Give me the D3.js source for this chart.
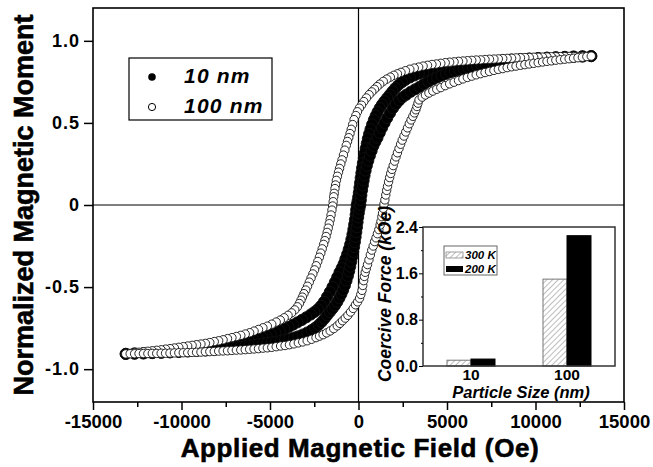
<!DOCTYPE html>
<html>
<head>
<meta charset="utf-8">
<script src="https://d3js.org/d3.v7.min.js"></script>
<style>
  body { margin: 0; background: #fff; }
  text { font-family: "Liberation Sans", Arial, sans-serif; font-weight: bold; }
</style>
</head>
<body>
<svg id="chart" width="653" height="467"></svg>

<script>
// ---- data: [field (Oe), normalized moment] ----
const nm100Down = [[13150,.907],[12900,.906],[12650,.906],[12400,.905],[12150,.905],[11900,.905],[11650,.904],[11400,.904],[11150,.903],[10900,.903],[10650,.902],[10400,.901],[10150,.900],[9900,.900],[9650,.899],[9400,.898],[9150,.897],[8900,.896],[8650,.894],[8400,.893],[8150,.892],[7900,.890],[7650,.889],[7400,.888],[7150,.886],[6900,.884],[6650,.883],[6400,.881],[6150,.879],[5900,.877],[5650,.875],[5400,.872],[5150,.870],[4900,.867],[4650,.863],[4400,.859],[4150,.856],[3900,.851],[3650,.846],[3400,.840],[3150,.834],[2900,.827],[2650,.818],[2400,.808],[2200,.799],[2000,.790],[1800,.779],[1600,.767],[1400,.753],[1200,.736],[1050,.721],[900,.705],[750,.689],[600,.672],[450,.652],[300,.630],[170,.608],[50,.590],[-60,.568],[-150,.545],[-250,.520],[-330,.490],[-410,.461],[-480,.435],[-550,.410],[-620,.387],[-690,.363],[-770,.334],[-850,.304],[-930,.275],[-1000,.250],[-1070,.223],[-1130,.200],[-1190,.175],[-1250,.150],[-1295,.122],[-1330,.100],[-1370,.071],[-1400,.050],[-1430,.020],[-1460,-.006],[-1500,-.031],[-1550,-.061],[-1600,-.089],[-1650,-.114],[-1710,-.141],[-1770,-.167],[-1830,-.192],[-1900,-.217],[-1970,-.240],[-2050,-.267],[-2130,-.293],[-2210,-.318],[-2300,-.344],[-2390,-.370],[-2480,-.395],[-2580,-.420],[-2680,-.445],[-2780,-.470],[-2880,-.495],[-2980,-.518],[-3080,-.540],[-3170,-.561],[-3250,-.580],[-3340,-.600],[-3450,-.620],[-3600,-.639],[-3780,-.657],[-3980,-.672],[-4200,-.687],[-4420,-.701],[-4650,-.713],[-4900,-.726],[-5150,-.738],[-5400,-.748],[-5650,-.758],[-5900,-.768],[-6150,-.778],[-6400,-.786],[-6650,-.794],[-6900,-.801],[-7150,-.808],[-7400,-.814],[-7650,-.821],[-7900,-.827],[-8150,-.832],[-8400,-.838],[-8650,-.843],[-8900,-.847],[-9150,-.851],[-9400,-.855],[-9650,-.859],[-9900,-.863],[-10150,-.867],[-10400,-.871],[-10650,-.875],[-10900,-.878],[-11150,-.882],[-11400,-.885],[-11650,-.888],[-11900,-.891],[-12150,-.894],[-12400,-.897],[-12650,-.900],[-12900,-.904],[-13150,-.907]];

const nm100Up = [[-13150,-.907],[-12900,-.906],[-12650,-.906],[-12400,-.905],[-12150,-.905],[-11900,-.905],[-11650,-.904],[-11400,-.904],[-11150,-.903],[-10900,-.903],[-10650,-.902],[-10400,-.901],[-10150,-.900],[-9900,-.900],[-9650,-.899],[-9400,-.898],[-9150,-.897],[-8900,-.896],[-8650,-.894],[-8400,-.893],[-8150,-.892],[-7900,-.890],[-7650,-.889],[-7400,-.888],[-7150,-.886],[-6900,-.884],[-6650,-.883],[-6400,-.881],[-6150,-.879],[-5900,-.877],[-5650,-.875],[-5400,-.872],[-5150,-.870],[-4900,-.867],[-4650,-.863],[-4400,-.859],[-4150,-.856],[-3900,-.851],[-3650,-.846],[-3400,-.840],[-3150,-.834],[-2900,-.827],[-2650,-.818],[-2400,-.808],[-2200,-.799],[-2000,-.790],[-1800,-.779],[-1600,-.767],[-1400,-.753],[-1200,-.736],[-1050,-.721],[-900,-.705],[-750,-.689],[-600,-.672],[-450,-.652],[-300,-.630],[-170,-.608],[-50,-.590],[60,-.568],[130,-.545],[200,-.520],[240,-.490],[290,-.461],[330,-.435],[380,-.410],[440,-.387],[510,-.363],[590,-.334],[670,-.304],[750,-.275],[830,-.250],[910,-.223],[990,-.200],[1070,-.175],[1150,-.150],[1220,-.122],[1270,-.100],[1320,-.071],[1360,-.050],[1400,-.020],[1440,.006],[1490,.031],[1540,.061],[1590,.089],[1640,.114],[1700,.141],[1760,.167],[1820,.192],[1890,.217],[1960,.240],[2040,.267],[2120,.293],[2200,.318],[2290,.344],[2380,.370],[2470,.395],[2570,.420],[2670,.445],[2770,.470],[2870,.495],[2970,.518],[3070,.540],[3160,.561],[3240,.580],[3300,.600],[3360,.620],[3420,.640],[3600,.657],[3780,.670],[3980,.682],[4200,.694],[4420,.705],[4650,.715],[4900,.727],[5150,.738],[5400,.748],[5650,.758],[5900,.768],[6150,.777],[6400,.785],[6650,.793],[6900,.800],[7150,.807],[7400,.813],[7650,.820],[7900,.826],[8150,.831],[8400,.837],[8650,.842],[8900,.846],[9150,.851],[9400,.855],[9650,.859],[9900,.863],[10150,.867],[10400,.871],[10650,.875],[10900,.878],[11150,.882],[11400,.885],[11650,.888],[11900,.891],[12150,.894],[12400,.897],[12650,.900],[12900,.904],[13150,.907]];

const nm10Down = [[13150,.907],[12650,.905],[12150,.903],[11650,.901],[11150,.899],[10650,.897],[10150,.895],[9650,.892],[9150,.889],[8650,.886],[8150,.882],[7650,.876],[7150,.870],[6900,.867],[6650,.864],[6400,.861],[6150,.857],[5900,.853],[5650,.849],[5400,.845],[5150,.841],[4900,.837],[4650,.833],[4400,.828],[4150,.822],[3900,.815],[3650,.807],[3400,.800],[3150,.789],[2900,.777],[2650,.762],[2450,.748],[2250,.730],[2080,.712],[1920,.692],[1770,.672],[1620,.652],[1470,.632],[1330,.612],[1200,.590],[1080,.567],[970,.543],[870,.518],[770,.490],[680,.461],[600,.432],[530,.404],[470,.375],[410,.345],[355,.315],[300,.285],[250,.255],[205,.225],[165,.195],[125,.165],[90,.135],[55,.105],[20,.075],[-15,.048],[-55,.022],[-100,.000],[-130,-.030],[-160,-.060],[-200,-.090],[-245,-.120],[-290,-.150],[-340,-.180],[-400,-.210],[-470,-.240],[-550,-.270],[-640,-.300],[-740,-.330],[-840,-.360],[-950,-.385],[-1070,-.410],[-1200,-.440],[-1330,-.470],[-1470,-.500],[-1620,-.530],[-1780,-.560],[-1950,-.590],[-2120,-.615],[-2300,-.635],[-2500,-.652],[-2700,-.667],[-2950,-.684],[-3200,-.700],[-3450,-.715],[-3700,-.729],[-3950,-.743],[-4200,-.756],[-4450,-.768],[-4700,-.779],[-4950,-.789],[-5200,-.798],[-5450,-.806],[-5700,-.814],[-5950,-.821],[-6200,-.828],[-6450,-.834],[-6700,-.840],[-6950,-.846],[-7200,-.851],[-7650,-.860],[-8150,-.869],[-8650,-.877],[-9150,-.884],[-9650,-.889],[-10150,-.893],[-10650,-.897],[-11150,-.900],[-11650,-.902],[-12150,-.904],[-12650,-.905],[-13150,-.907]];

const nm10Up = [[-13150,-.907],[-12650,-.905],[-12150,-.903],[-11650,-.901],[-11150,-.899],[-10650,-.897],[-10150,-.895],[-9650,-.892],[-9150,-.889],[-8650,-.886],[-8150,-.882],[-7650,-.876],[-7150,-.870],[-6900,-.867],[-6650,-.864],[-6400,-.861],[-6150,-.857],[-5900,-.853],[-5650,-.849],[-5400,-.845],[-5150,-.841],[-4900,-.837],[-4650,-.833],[-4400,-.828],[-4150,-.822],[-3900,-.815],[-3650,-.807],[-3400,-.800],[-3150,-.789],[-2900,-.777],[-2650,-.762],[-2450,-.748],[-2250,-.730],[-2080,-.712],[-1920,-.692],[-1770,-.672],[-1620,-.652],[-1470,-.632],[-1330,-.612],[-1200,-.590],[-1080,-.567],[-970,-.543],[-870,-.518],[-770,-.490],[-680,-.461],[-600,-.432],[-530,-.404],[-470,-.375],[-410,-.345],[-355,-.315],[-300,-.285],[-250,-.255],[-205,-.225],[-165,-.195],[-125,-.165],[-90,-.135],[-55,-.105],[-20,-.075],[15,-.048],[55,-.022],[100,.000],[130,.030],[160,.060],[200,.090],[245,.120],[290,.150],[340,.180],[400,.210],[470,.240],[550,.270],[640,.300],[740,.330],[840,.360],[950,.385],[1070,.410],[1200,.440],[1330,.470],[1470,.500],[1620,.530],[1780,.560],[1950,.590],[2120,.615],[2300,.637],[2500,.657],[2700,.672],[2950,.690],[3200,.705],[3450,.720],[3700,.737],[3950,.752],[4200,.765],[4450,.777],[4700,.788],[4950,.799],[5200,.808],[5450,.816],[5700,.823],[5950,.830],[6200,.836],[6450,.842],[6700,.847],[6950,.852],[7200,.857],[7650,.864],[8150,.872],[8650,.879],[9150,.885],[9650,.890],[10150,.894],[10650,.897],[11150,.900],[11650,.902],[12150,.904],[12650,.905],[13150,.907]];

// axis ticks
const xTicks = [-15000, -10000, -5000, 0, 5000, 10000, 15000];
const xMinor = [-12500, -7500, -2500, 2500, 7500, 12500];
const yTicks = [-1.0, -0.5, 0, 0.5, 1.0];

// inset: coercive force vs particle size
const sizes = ["10", "100"];
const hc300 = [0.10, 1.50];
const hc200 = [0.12, 2.25];
const insetTicks = [0, 0.8, 1.6, 2.4];
const insetMinor = [0.4, 1.2, 2.0];

// ---- setup ----
const svg = d3.select("#chart");
const plot = { left: 93, right: 624, top: 8, bottom: 402 };

const x = d3.scaleLinear().domain([-15000, 15000]).range([plot.left, plot.right]);
const y = d3.scaleLinear().domain([-1.2, 1.2]).range([plot.bottom, plot.top]);

// zero lines
svg.append("line")
   .attr("x1", x(0)).attr("x2", x(0)).attr("y1", plot.top).attr("y2", plot.bottom)
   .attr("stroke", "#000").attr("stroke-width", 1.2);
svg.append("line")
   .attr("x1", plot.left).attr("x2", plot.right).attr("y1", y(0)).attr("y2", y(0))
   .attr("stroke", "#000").attr("stroke-width", 1.2);

// hysteresis points
function drawPoints(data, fill, r) {
    svg.append("g").selectAll("circle").data(data)
       .join("circle")
       .attr("cx", d => x(d[0]))
       .attr("cy", d => y(d[1]))
       .attr("r", r)
       .attr("fill", fill)
       .attr("stroke", "#111")
       .attr("stroke-width", 0.9);
}
drawPoints(nm10Down, "#000", 5.6);
drawPoints(nm10Up, "#000", 5.6);
drawPoints(nm100Down, "#fff", 4.2);
drawPoints(nm100Up, "#fff", 4.2);

// frame
svg.append("rect")
   .attr("x", plot.left).attr("y", plot.top)
   .attr("width", plot.right - plot.left).attr("height", plot.bottom - plot.top)
   .attr("fill", "none").attr("stroke", "#000").attr("stroke-width", 1.6);

// axes
const xAxis = svg.append("g")
   .attr("transform", "translate(0," + plot.bottom + ")")
   .call(d3.axisBottom(x).tickValues(xTicks).tickSize(8).tickPadding(5).tickFormat(d => String(d)));
xAxis.attr("font-size", 18.5).attr("font-family", null);
xAxis.select(".domain").remove();
xAxis.selectAll("line").attr("stroke-width", 1.5);

const xMinorAxis = svg.append("g")
   .attr("transform", "translate(0," + plot.bottom + ")")
   .call(d3.axisBottom(x).tickValues(xMinor).tickSize(5).tickFormat(""));
xMinorAxis.select(".domain").remove();
xMinorAxis.selectAll("line").attr("stroke-width", 1.5);

const yAxis = svg.append("g")
   .attr("transform", "translate(" + plot.left + ",0)")
   .call(d3.axisLeft(y).tickValues(yTicks).tickSize(9).tickPadding(4)
           .tickFormat(d => d === 0 ? "0" : d.toFixed(1)));
yAxis.attr("font-size", 18).attr("font-family", null);
yAxis.select(".domain").remove();
yAxis.selectAll("line").attr("stroke-width", 1.5);
yAxis.selectAll("text").attr("letter-spacing", 1);

// axis titles
svg.append("text")
   .attr("x", 360).attr("y", 456.5)
   .attr("text-anchor", "middle").attr("font-size", 26).attr("letter-spacing", 0.6)
   .attr("stroke", "#000").attr("stroke-width", 0.6)
   .text("Applied Magnetic Field (Oe)");

svg.append("text")
   .attr("transform", "translate(33,205) rotate(-90)")
   .attr("text-anchor", "middle").attr("font-size", 27)
   .attr("stroke", "#000").attr("stroke-width", 0.6)
   .text("Normalized Magnetic Moment");

// legend
const legend = svg.append("g");
legend.append("rect")
   .attr("x", 129).attr("y", 58).attr("width", 143).attr("height", 62)
   .attr("fill", "#fff").attr("stroke", "#000").attr("stroke-width", 1.2);
legend.append("circle").attr("cx", 152).attr("cy", 77).attr("r", 3.8).attr("fill", "#000");
legend.append("circle").attr("cx", 152).attr("cy", 107).attr("r", 3.6)
      .attr("fill", "#fff").attr("stroke", "#000").attr("stroke-width", 1);
legend.append("text").attr("x", 184).attr("y", 83)
      .attr("font-size", 21).attr("font-style", "italic").attr("letter-spacing", 1.2)
      .text("10 nm");
legend.append("text").attr("x", 184).attr("y", 113)
      .attr("font-size", 21).attr("font-style", "italic").attr("letter-spacing", 1.2)
      .text("100 nm");

// ---- inset ----
const inset = { left: 423, right: 615, top: 227, bottom: 366 };
const ix = d3.scaleBand().domain(sizes).range([inset.left, inset.right])
             .paddingInner(0.5).paddingOuter(0.25);
const iy = d3.scaleLinear().domain([0, 2.4]).range([inset.bottom, inset.top]);

const defs = svg.append("defs");
const hatch = defs.append("pattern")
   .attr("id", "hatch").attr("patternUnits", "userSpaceOnUse")
   .attr("width", 4).attr("height", 4).attr("patternTransform", "rotate(45)");
hatch.append("rect").attr("width", 4).attr("height", 4).attr("fill", "#fff");
hatch.append("line").attr("x1", 0).attr("y1", 0).attr("x2", 0).attr("y2", 4)
     .attr("stroke", "#999").attr("stroke-width", 1.3);

svg.append("rect")
   .attr("x", inset.left).attr("y", inset.top)
   .attr("width", inset.right - inset.left).attr("height", inset.bottom - inset.top)
   .attr("fill", "#fff");

const half = ix.bandwidth() / 2;
svg.append("g").selectAll("rect").data(sizes)
   .join("rect")
   .attr("x", d => ix(d))
   .attr("y", (d, i) => iy(hc300[i]))
   .attr("width", half)
   .attr("height", (d, i) => iy(0) - iy(hc300[i]))
   .attr("fill", "url(#hatch)").attr("stroke", "#777").attr("stroke-width", 1);
svg.append("g").selectAll("rect").data(sizes)
   .join("rect")
   .attr("x", d => ix(d) + half)
   .attr("y", (d, i) => iy(hc200[i]))
   .attr("width", half)
   .attr("height", (d, i) => iy(0) - iy(hc200[i]))
   .attr("fill", "#000").attr("stroke", "#000").attr("stroke-width", 1);

svg.append("rect")
   .attr("x", inset.left).attr("y", inset.top)
   .attr("width", inset.right - inset.left).attr("height", inset.bottom - inset.top)
   .attr("fill", "none").attr("stroke", "#333").attr("stroke-width", 1.5);

const iyAxis = svg.append("g")
   .attr("transform", "translate(" + inset.left + ",0)")
   .call(d3.axisLeft(iy).tickValues(insetTicks).tickSize(4).tickPadding(1)
           .tickFormat(d => d.toFixed(1)));
iyAxis.attr("font-size", 16).attr("font-family", null);
iyAxis.select(".domain").remove();

const iyMinor = svg.append("g")
   .attr("transform", "translate(" + inset.left + ",0)")
   .call(d3.axisLeft(iy).tickValues(insetMinor).tickSize(2).tickFormat(""));
iyMinor.select(".domain").remove();

const ixAxis = svg.append("g")
   .attr("transform", "translate(0," + inset.bottom + ")")
   .call(d3.axisBottom(ix).tickSize(0).tickPadding(3));
ixAxis.attr("font-size", 15.5).attr("font-family", null);
ixAxis.select(".domain").remove();

svg.append("text")
   .attr("x", 521).attr("y", 397.5)
   .attr("text-anchor", "middle").attr("font-size", 16.5).attr("font-style", "italic")
   .text("Particle Size (nm)");

svg.append("text")
   .attr("transform", "translate(391,294) rotate(-90)")
   .attr("text-anchor", "middle").attr("font-size", 17.5).attr("font-style", "italic")
   .text("Coercive Force (kOe)");

// inset legend
const il = svg.append("g");
il.append("rect").attr("x", 444).attr("y", 246).attr("width", 53).attr("height", 29)
  .attr("fill", "#fff").attr("stroke", "#666").attr("stroke-width", 1);
il.append("rect").attr("x", 446).attr("y", 252).attr("width", 17).attr("height", 6)
  .attr("fill", "url(#hatch)").attr("stroke", "#888").attr("stroke-width", 0.8);
il.append("rect").attr("x", 446).attr("y", 266).attr("width", 17).attr("height", 6)
  .attr("fill", "#000");
il.append("text").attr("x", 465).attr("y", 259)
  .attr("font-size", 11.5).attr("font-style", "italic").text("300 K");
il.append("text").attr("x", 465).attr("y", 272.5)
  .attr("font-size", 11.5).attr("font-style", "italic").text("200 K");
</script>
</body>
</html>
